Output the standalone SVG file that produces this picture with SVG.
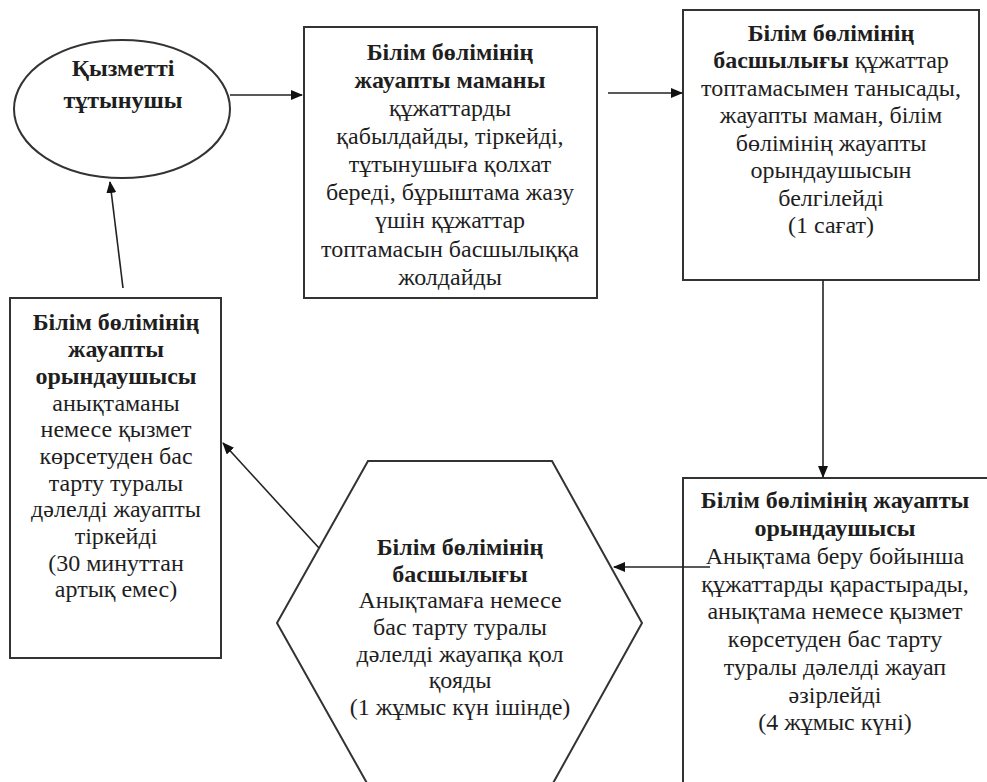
<svg xmlns="http://www.w3.org/2000/svg" width="987" height="782" viewBox="0 0 987 782">
<style>
.shape{fill:#fff;stroke:#333;stroke-width:2}
.conn{stroke:#222;stroke-width:1.6;fill:none}
text{font-family:"Times New Roman","Liberation Serif",serif;font-size:24px;fill:#1e1e1e;text-anchor:middle}
.b{font-weight:bold}
</style>
<defs>
<marker id="arr" markerUnits="userSpaceOnUse" markerWidth="12" markerHeight="10" refX="11" refY="5" orient="auto">
<path d="M0,0 L12,5 L0,10 Z" fill="#111"/>
</marker>
</defs>
<rect width="987" height="782" fill="#fff"/>
<g id="n1">
<ellipse class="shape" cx="122" cy="109" rx="108" ry="69"/>
<text class="b" x="123" y="76">Қызметті</text>
<text class="b" x="123" y="108">тұтынушы</text>
</g>
<g id="n2">
<rect class="shape" x="304" y="27" width="293" height="271"/>
<text class="b" x="450" y="60">Білім бөлімінің</text>
<text class="b" x="450" y="88">жауапты маманы</text>
<text x="450" y="116">құжаттарды</text>
<text x="450" y="144">қабылдайды,  тіркейді,</text>
<text x="450" y="172">тұтынушыға қолхат</text>
<text x="450" y="200">береді, бұрыштама жазу</text>
<text x="450" y="228">үшін құжаттар</text>
<text x="450" y="257">топтамасын басшылыққа</text>
<text x="450" y="285">жолдайды</text>
</g>
<g id="n3">
<rect class="shape" x="683" y="10" width="296" height="270"/>
<text class="b" x="831" y="41">Білім бөлімінің</text>
<text x="831" y="68"><tspan class="b">басшылығы</tspan> құжаттар</text>
<text x="831" y="96">топтамасымен танысады,</text>
<text x="831" y="123">жауапты маман, білім</text>
<text x="831" y="151">бөлімінің жауапты</text>
<text x="831" y="178">орындаушысын</text>
<text x="831" y="206">белгілейді</text>
<text x="831" y="233">(1 сағат)</text>
</g>
<g id="n4">
<rect class="shape" x="683" y="478" width="320" height="320"/>
<text class="b" x="835" y="508">Білім бөлімінің жауапты</text>
<text class="b" x="835" y="536">орындаушысы</text>
<text x="835" y="564">Анықтама беру бойынша</text>
<text x="835" y="592">құжаттарды қарастырады,</text>
<text x="835" y="619">анықтама немесе қызмет</text>
<text x="835" y="647">көрсетуден бас  тарту</text>
<text x="835" y="675">туралы дәлелді жауап</text>
<text x="835" y="703">әзірлейді</text>
<text x="835" y="730">(4 жұмыс күні)</text>
</g>
<g id="n5">
<polygon class="shape" points="368,461 552,461 642,623 552,785 368,785 277,623"/>
<text class="b" x="460" y="555">Білім бөлімінің</text>
<text class="b" x="460" y="582">басшылығы</text>
<text x="460" y="608">Анықтамаға немесе</text>
<text x="460" y="635">бас тарту туралы</text>
<text x="460" y="662">дәлелді  жауапқа қол</text>
<text x="460" y="688">қояды</text>
<text x="460" y="715">(1 жұмыс күн ішінде)</text>
</g>
<g id="n6">
<rect class="shape" x="10" y="298" width="211" height="360"/>
<text class="b" x="116" y="330">Білім бөлімінің</text>
<text class="b" x="116" y="357">жауапты</text>
<text class="b" x="116" y="384">орындаушысы</text>
<text x="116" y="411">анықтаманы</text>
<text x="116" y="437">немесе  қызмет</text>
<text x="116" y="464">көрсетуден бас</text>
<text x="116" y="491">тарту туралы</text>
<text x="116" y="517">дәлелді жауапты</text>
<text x="116" y="544">тіркейді</text>
<text x="116" y="571">(30 минуттан</text>
<text x="116" y="597">артық емес)</text>
</g>
<g id="connectors">
<line class="conn" x1="230" y1="95" x2="302" y2="95" marker-end="url(#arr)"/>
<line class="conn" x1="608" y1="93" x2="682" y2="93" marker-end="url(#arr)"/>
<line class="conn" x1="823" y1="280" x2="823" y2="477" marker-end="url(#arr)"/>
<line class="conn" x1="710" y1="567" x2="614" y2="567" marker-end="url(#arr)"/>
<line class="conn" x1="319" y1="548" x2="223" y2="443" marker-end="url(#arr)"/>
<line class="conn" x1="123" y1="288" x2="110" y2="182" marker-end="url(#arr)"/>
</g>
</svg>
